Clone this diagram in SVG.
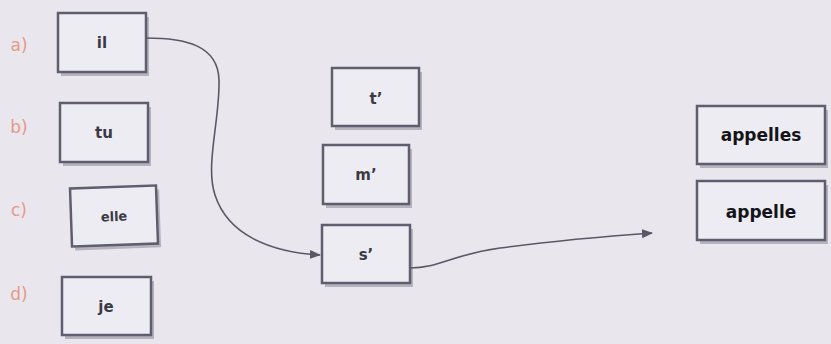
<svg xmlns="http://www.w3.org/2000/svg" width="831" height="344" viewBox="0 0 831 344">
<style>
.box{fill:#eeecf3;stroke:#5f5e6e;stroke-width:2.5}
.sh{fill:#8a8898;opacity:0.55}
.t{font-family:"DejaVu Sans",sans-serif;font-weight:bold;font-size:15px;fill:#3a3a44;text-anchor:middle}
.tb{font-family:"DejaVu Sans",sans-serif;font-weight:bold;font-size:17px;fill:#141418;text-anchor:middle}
.lbl{font-family:"DejaVu Sans",sans-serif;font-size:17px;fill:#e59a86;text-anchor:middle}
.con{fill:none;stroke:#5a5866;stroke-width:1.6}
</style>
<defs>
<marker id="ah" viewBox="0 0 10 10" refX="9" refY="5" markerWidth="7" markerHeight="7" orient="auto">
<path d="M0,1 L10,5 L0,9 z" fill="#5a5866"/>
</marker>
</defs>
<rect width="831" height="344" fill="#e9e6ee"/>
<text class="lbl" x="19" y="51">a)</text>
<text class="lbl" x="19" y="133">b)</text>
<text class="lbl" x="19" y="216">c)</text>
<text class="lbl" x="19" y="300">d)</text>
<g id="n-il"><rect class="sh" x="61" y="17" width="88" height="59"/><rect class="box" x="58" y="13" width="88" height="59"/><text class="t" x="102" y="48">il</text></g>
<g id="n-tu"><rect class="sh" x="63" y="107" width="88" height="59"/><rect class="box" x="60" y="103" width="88" height="59"/><text class="t" x="104" y="138">tu</text></g>
<g id="n-elle" transform="rotate(-2 114 216)"><rect class="sh" x="74" y="191" width="86" height="58"/><rect class="box" x="71" y="187" width="86" height="58"/><text class="t" x="114" y="221" style="font-size:13px">elle</text></g>
<g id="n-je"><rect class="sh" x="65" y="281" width="89" height="58"/><rect class="box" x="62" y="277" width="89" height="58"/><text class="t" x="106" y="312">je</text></g>
<g id="n-t"><rect class="sh" x="335" y="72" width="87" height="58"/><rect class="box" x="332" y="68" width="87" height="58"/><text class="t" x="376" y="104">t’</text></g>
<g id="n-m"><rect class="sh" x="326" y="149" width="86" height="59"/><rect class="box" x="323" y="145" width="86" height="59"/><text class="t" x="366" y="180">m’</text></g>
<g id="n-s"><rect class="sh" x="325" y="229" width="88" height="58"/><rect class="box" x="322" y="225" width="88" height="58"/><text class="t" x="366" y="260">s’</text></g>
<g id="n-appelles"><rect class="sh" x="700" y="110" width="128" height="58"/><rect class="box" x="697" y="106" width="128" height="58"/><text class="tb" x="761" y="141">appelles</text></g>
<g id="n-appelle"><rect class="sh" x="700" y="185" width="128" height="59"/><rect class="box" x="697" y="181" width="128" height="59"/><text class="tb" x="761" y="218">appelle</text></g>
<g id="connectors">
<path class="con" marker-end="url(#ah)" d="M146,38 C185,38 218,45 219,80 C220,120 205,165 215,195 C228,235 270,252 320,255"/>
<path class="con" marker-end="url(#ah)" d="M410,268 C440,268 450,255 500,248 C560,240 610,236 652,233"/>
</g>
</svg>
